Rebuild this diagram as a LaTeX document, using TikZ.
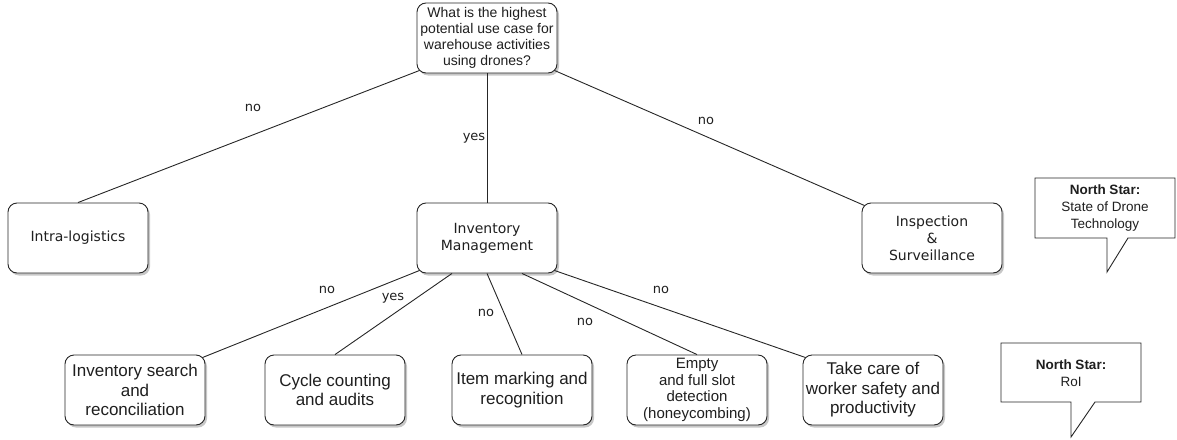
\documentclass[tikz,border=0pt]{standalone}
\usepackage{fontspec}
\setmainfont{Liberation Sans}
\newfontfamily\verd{DejaVu Sans}
\usetikzlibrary{shadows}
\begin{document}
\begin{tikzpicture}[x=1pt,y=-1pt,
  every node/.style={text=black!88},
  box/.style={draw=black!85, rounded corners=9pt, line width=0.9pt, fill=white,
    minimum width=140pt, minimum height=70pt, align=center, inner sep=1pt,
    drop shadow={shadow xshift=2pt, shadow yshift=-2.5pt, fill=black, opacity=0.22}},
  qbox/.style={box, font=\fontsize{14}{16}\selectfont},
  vbox/.style={box, font=\verd\fontsize{14}{17}\selectfont},
  abox/.style={box, font=\fontsize{17}{19.5}\selectfont},
  sbox/.style={box, font=\fontsize{15}{16.7}\selectfont},
  lbl/.style={font=\verd\fontsize{13}{15}\selectfont, inner sep=1pt},
  link/.style={draw=black!85, line width=0.9pt},
  callout/.style={draw=black!85, line width=0.9pt, fill=white},
  cotext/.style={align=center, inner sep=1pt, font=\fontsize{13.5}{16.7}\selectfont}
]
\useasboundingbox (0,0) rectangle (1177,439);

% question and first level
\node[qbox] (root) at (487,38) {What is the highest\\potential use case for\\warehouse activities\\using drones?};
\node[vbox] (intra) at (78,238) {Intra-logistics};
\node[vbox] (im) at (487,238) {Inventory\\Management};
\node[vbox] (insp) at (932,238) {Inspection\\\&\\Surveillance};

% inventory management use cases
\node[abox] (search) at (135,390) {Inventory search\\and\\reconciliation};
\node[abox] (cycle) at (335,390) {Cycle counting\\and audits};
\node[abox] (item) at (522,390) {Item marking and\\recognition};
\node[sbox] (slot) at (697,390) {Empty\\and full slot\\detection\\(honeycombing)};
\node[abox] (safety) at (873,390) {Take care of\\worker safety and\\productivity};

% connectors
\draw[link] ([shift={(3,-3)}]root.south west) -- (intra.north);
\draw[link] (root.south) -- (im.north);
\draw[link] ([shift={(-3,-3)}]root.south east) -- ([shift={(3,3)}]insp.north west);

\draw[link] ([shift={(3,-3)}]im.south west) -- ([shift={(-3,3)}]search.north east);
\draw[link] ([xshift=-35pt]im.south) -- (cycle.north);
\draw[link] (im.south) -- (item.north);
\draw[link] ([xshift=35pt]im.south) -- (slot.north);
\draw[link] ([shift={(-3,-3)}]im.south east) -- ([shift={(3,3)}]safety.north west);

% connector labels
\node[lbl] (l1) at (253,108) {no};
\node[lbl] (l2) at (474,138) {yes};
\node[lbl] (l3) at (706,121) {no};
\node[lbl] (l4) at (327,290) {no};
\node[lbl] (l5) at (393,298) {yes};
\node[lbl] (l6) at (486,313) {no};
\node[lbl] (l7) at (585,322) {no};
\node[lbl] (l8) at (661,290) {no};

% speech-bubble notes
\draw[callout] (1035,178) -- (1175,178) -- (1175,238) -- (1128,238) -- (1107,272) -- (1107,238) -- (1035,238) -- cycle;
\node[cotext] (star1) at (1105,208) {\textbf{North Star:}\\State of Drone\\Technology};

\draw[callout] (1001,343) -- (1141,343) -- (1141,402) -- (1095,402) -- (1071,437) -- (1071,402) -- (1001,402) -- cycle;
\node[cotext] (star2) at (1071,373) {\textbf{North Star:}\\RoI};
\end{tikzpicture}
\end{document}
